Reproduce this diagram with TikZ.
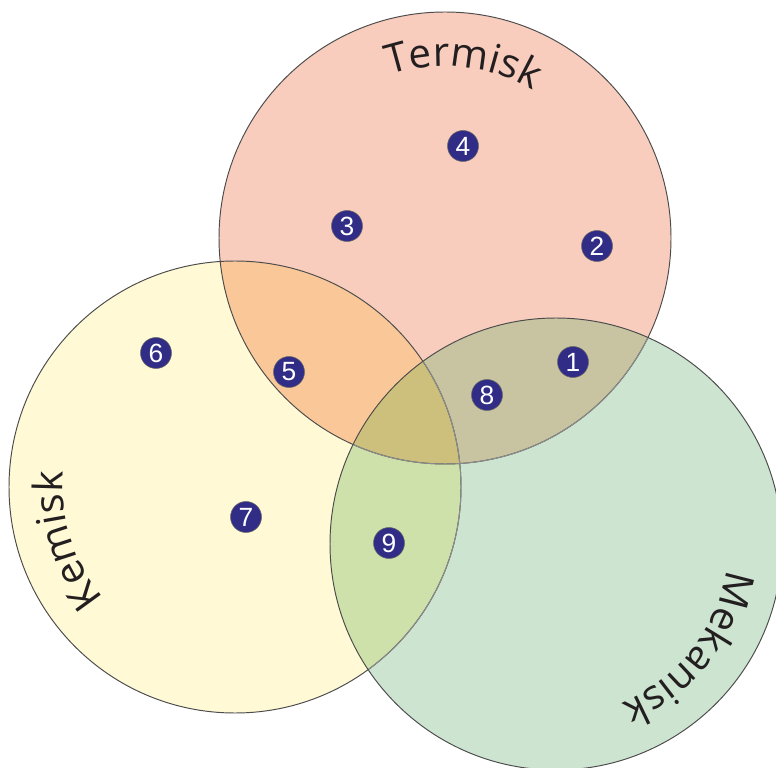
\documentclass[tikz,border=0pt]{standalone}
\usepackage{fontspec}
\setmainfont{Liberation Sans}
\newfontfamily\labelfont{Open Sans}
\usetikzlibrary{decorations.text}

\definecolor{termcol}{RGB}{248,205,189}
\definecolor{kemcol}{RGB}{255,249,214}
\definecolor{mekcol}{RGB}{204,228,208}
\definecolor{tkcol}{RGB}{250,200,152}
\definecolor{tmcol}{RGB}{200,195,160}
\definecolor{kmcol}{RGB}{206,225,170}
\definecolor{tkmcol}{RGB}{205,192,125}
\definecolor{markcol}{RGB}{49,45,134}
\definecolor{inkcol}{RGB}{35,31,32}

\tikzset{
    edge/.style={line width=0.55pt, draw=black!70},
    inner edge/.style={line width=0.55pt, draw=black!45},
    marker/.style={shape=circle, fill=markcol, draw=black!60, line width=0.3pt,
        minimum size=0.62cm, inner sep=0pt, text=white,
        font=\fontsize{15}{16}\selectfont},
    setlabel/.style={decorate, decoration={text along path, text align=center,
        text color=inkcol}}
}

\begin{document}
\begin{tikzpicture}[x=0.02cm, y=0.02cm]
    \clip (0,0) rectangle (776,767);
    \useasboundingbox (0,0) rectangle (776,767);

    \coordinate (T) at (445,529);
    \coordinate (K) at (235,280);
    \coordinate (M) at (556,223);

    % the three sets
    \fill[termcol] (T) circle (226);
    \fill[kemcol] (K) circle (226);
    \fill[mekcol] (M) circle (226);

    % overlaps
    \begin{scope}
        \clip (K) circle (226);
        \fill[kmcol] (M) circle (226);
    \end{scope}
    \begin{scope}
        \clip (T) circle (226);
        \fill[tkcol] (K) circle (226);
        \fill[tmcol] (M) circle (226);
        \clip (K) circle (226);
        \fill[tkmcol] (M) circle (226);
    \end{scope}

    \draw[edge] (T) circle (226);
    \draw[edge] (K) circle (226);
    \begin{scope}
        \clip (M) circle (226);
        \draw[inner edge] (T) circle (226);
        \draw[inner edge] (K) circle (226);
    \end{scope}
    \draw[edge] (M) circle (226);

    % labels along the rims
    \path[setlabel, decoration={text={|\labelfont\fontsize{23}{27}\selectfont|Termisk}}]
        (T) ++(124:172) arc[start angle=124, end angle=44, radius=172];
    \path[setlabel, decoration={text={|\labelfont\fontsize{23}{27}\selectfont|Kemisk}}]
        (K) ++(240:172) arc[start angle=240, end angle=155, radius=172];
    \path[setlabel, decoration={text={|\labelfont\fontsize{23}{27}\selectfont|Mekanisk}}]
        (M) ++(6:172) arc[start angle=6, end angle=-82, radius=172];

    % numbered items
    \node (n1) at (573,405) [marker] {1};
    \node (n2) at (597,521) [marker] {2};
    \node (n3) at (347,541) [marker] {3};
    \node (n4) at (463,621) [marker] {4};
    \node (n5) at (289,395) [marker] {5};
    \node (n6) at (156,414) [marker] {6};
    \node (n7) at (246,250) [marker] {7};
    \node (n8) at (487,372) [marker] {8};
    \node (n9) at (389,224) [marker] {9};
\end{tikzpicture}
\end{document}
